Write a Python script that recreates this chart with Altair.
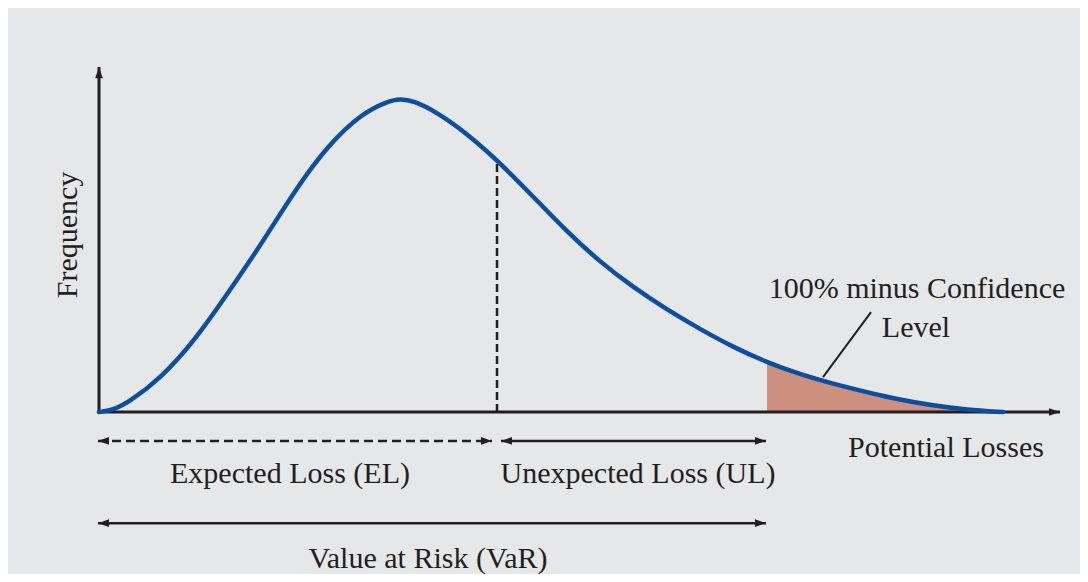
import altair as alt
import pandas as pd

# Curve (loss units, frequency units)
loss = [0, 1.5, 2.9, 6.3, 9.6, 12.9, 16.3, 19.6, 22.9, 26.3, 28.9, 30.1, 31.4, 33.8, 36.8,
        39.8, 43.4, 46.8, 50.1, 53.4, 56.8, 60.1, 63.4, 66.8, 70.1, 73.4, 76.8,
        80.1, 83.4, 86.8, 90.4]
freq = [0, 0.008, 0.029, 0.111, 0.229, 0.379, 0.538, 0.707, 0.850, 0.952, 0.990, 0.998, 0.992,
        0.955, 0.887, 0.803, 0.687, 0.574, 0.478, 0.398, 0.326, 0.264, 0.207, 0.158,
        0.120, 0.090, 0.063, 0.039, 0.021, 0.007, 0.0]

EL_X = 39.8       # expected loss marker
VAR_X = 66.8      # value at risk marker
EL_Y = 0.803      # curve height at EL

labels = ["Expected Loss (EL)", "Unexpected Loss (UL)", "Value at Risk (VaR)",
          "Potential Losses", "100% minus Confidence", "Level"]

INK = "#231f20"
BLUE = "#0d4f9e"
FONT = "Liberation Serif"

curve = pd.DataFrame({"loss": loss, "freq": freq})
tail = curve[curve["loss"] >= VAR_X]

xs = alt.Scale(domain=[-9.1, 98.1], nice=False, zero=False)
ys = alt.Scale(domain=[-0.516, 1.287], nice=False, zero=False)


def rules(rows, **kw):
    df = pd.DataFrame(rows, columns=["x", "x2", "y", "y2"])
    return alt.Chart(df).mark_rule(color=INK, **kw).encode(
        x=alt.X("x:Q", scale=xs, axis=None),
        x2="x2:Q",
        y=alt.Y("y:Q", scale=ys, axis=None),
        y2="y2:Q",
    )


area = alt.Chart(tail).mark_area(interpolate="monotone", color="#cd8f7e").encode(
    x=alt.X("loss:Q", scale=xs, axis=None),
    y=alt.Y("freq:Q", scale=ys, axis=None),
    y2=alt.datum(0),
)

axes = rules([[0, 96.1, 0, 0], [0, 0, 0, 1.099]], strokeWidth=3)
el_line = rules([[EL_X, EL_X, 0, EL_Y]], strokeWidth=2.5, strokeDash=[8, 4])
el_arrow = rules([[-0.1, 39.3, -0.092, -0.092]], strokeWidth=2.5, strokeDash=[9, 5])
solid_arrows = rules([[40.2, VAR_X - 0.1, -0.092, -0.092],
                      [-0.1, VAR_X - 0.1, -0.354, -0.354]], strokeWidth=2.5)
leader = rules([[72.4, 77.2, 0.111, 0.318]], strokeWidth=2)

line = alt.Chart(curve).mark_line(interpolate="basis", color=BLUE, strokeWidth=4.5,
                                  strokeCap="round").encode(
    x=alt.X("loss:Q", scale=xs, axis=None),
    y=alt.Y("freq:Q", scale=ys, axis=None),
)

RIGHT = "M1,0L-1,-0.7L-1,0.7Z"
LEFT = "M-1,0L1,-0.7L1,0.7Z"
UP = "M0,-1L-0.7,1L0.7,1Z"
heads = pd.DataFrame([
    [95.55, 0, RIGHT], [0, 1.081, UP],
    [0.45, -0.092, LEFT], [38.75, -0.092, RIGHT],
    [40.75, -0.092, LEFT], [66.15, -0.092, RIGHT],
    [0.45, -0.354, LEFT], [66.15, -0.354, RIGHT],
], columns=["x", "y", "shape"])
head_layer = alt.Chart(heads).mark_point(filled=True, color=INK, opacity=1, size=121,
                                         strokeWidth=0).encode(
    x=alt.X("x:Q", scale=xs, axis=None),
    y=alt.Y("y:Q", scale=ys, axis=None),
    shape=alt.Shape("shape:N", scale=None, legend=None),
)

texts = pd.DataFrame({
    "label": labels,
    "x": [19.1, 53.9, 32.9, 84.7, 81.8, 81.7],
    "y": [-0.226, -0.226, -0.497, -0.143, 0.363, 0.239],
})
text_layer = alt.Chart(texts).mark_text(font=FONT, fontSize=30, color=INK, align="center",
                                        baseline="alphabetic").encode(
    x=alt.X("x:Q", scale=xs, axis=None),
    y=alt.Y("y:Q", scale=ys, axis=None),
    text="label:N",
)

ylab = alt.Chart(pd.DataFrame({"label": ["Frequency"], "x": [-3.1], "y": [0.564]})).mark_text(
    font=FONT, fontSize=30, color=INK, align="center", baseline="middle", angle=270
).encode(
    x=alt.X("x:Q", scale=xs, axis=None),
    y=alt.Y("y:Q", scale=ys, axis=None),
    text="label:N",
)

chart = alt.layer(
    area, el_line, axes, el_arrow, solid_arrows, leader, line, head_layer, text_layer, ylab
).properties(
    width=1072, height=566, background="#e6e7e9", padding=0,
    autosize=alt.AutoSizeParams(type="none"),
).configure_view(stroke=None)

chart.save("out.html", embed_options={"renderer": "svg", "actions": False})
